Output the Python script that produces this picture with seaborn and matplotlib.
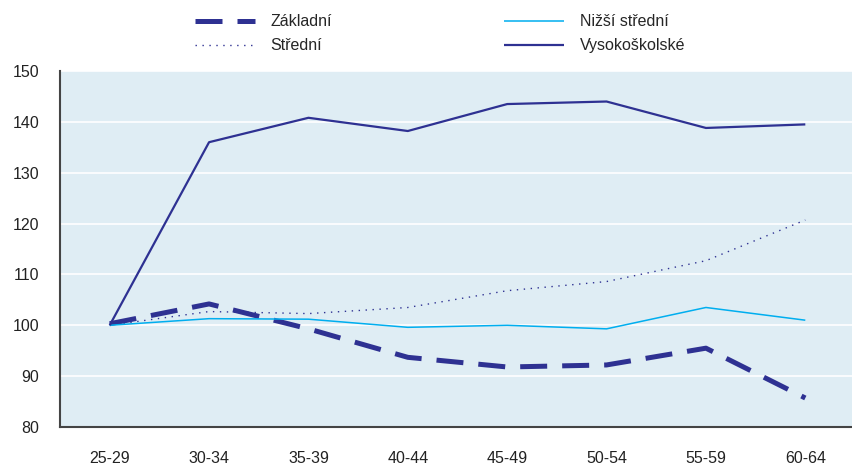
import numpy as np
import pandas as pd
import matplotlib
matplotlib.use('Agg')
import matplotlib.pyplot as plt
import seaborn as sns

# >> Data
age_groups = ['25-29', '30-34', '35-39', '40-44', '45-49', '50-54', '55-59', '60-64']
zakladni = [100.3, 104.2, 99.3, 93.7, 91.8, 92.2, 95.5, 85.7]
nizsi_stredni = [100.0, 101.3, 101.2, 99.6, 100.0, 99.3, 103.5, 101.0]
stredni = [100.0, 102.7, 102.3, 103.5, 106.8, 108.6, 112.7, 120.7]
vysokoskolske = [100.0, 136.0, 140.8, 138.2, 143.5, 144.0, 138.8, 139.5]

df = pd.DataFrame({
    'Věk': age_groups,
    'Základní': zakladni,
    'Nižší střední': nizsi_stredni,
    'Střední': stredni,
    'Vysokoškolské': vysokoskolske,
})
long_df = df.melt(id_vars='Věk', var_name='Vzdělání', value_name='Hodnota')
long_df['x'] = long_df['Věk'].map({a: i for i, a in enumerate(age_groups)})

sns.set_theme(style='white')
plt.rcParams['font.family'] = ['Liberation Sans', 'DejaVu Sans']

navy = '#2E3192'
cyan = '#00AEEF'
styles = {
    'Základní': dict(color=navy, lw=3.6, ls=(0, (5.4, 3))),
    'Střední': dict(color=navy, lw=1.0, ls=(0, (1, 4))),
    'Nižší střední': dict(color=cyan, lw=1.1, ls='-'),
    'Vysokoškolské': dict(color=navy, lw=1.6, ls='-'),
}

fig = plt.figure(figsize=(8.53, 4.66), dpi=100)
ax = fig.add_axes([60 / 853, 1 - 427 / 466, 795 / 853, 356 / 466])
ax.set_facecolor('#DFEDF4')

for name in ['Základní', 'Střední', 'Nižší střední', 'Vysokoškolské']:
    sub = long_df[long_df['Vzdělání'] == name]
    sns.lineplot(data=sub, x='x', y='Hodnota', ax=ax, label=name,
                 solid_capstyle='butt', dash_capstyle='butt', **styles[name])

ax.set_ylim(80, 150)
ax.set_xlim(-0.5, len(age_groups) - 0.5)
ax.set_yticks(np.arange(80, 151, 10))
ax.yaxis.grid(True, color='white', lw=1.2)
ax.set_axisbelow(True)
ax.set_xticks(np.arange(len(age_groups)))
ax.set_xticklabels(age_groups)
ax.set_xticks(np.arange(len(age_groups)) + 0.5, minor=True)
ax.tick_params(axis='x', which='major', length=0, pad=17, labelsize=11.5, colors='#222222')
ax.tick_params(axis='x', which='minor', direction='in', length=5, width=1.2, color='#555555')
ax.tick_params(axis='y', direction='in', length=5, width=1.0, color='#777777',
               labelsize=11.5, labelcolor='#222222', pad=15)
ax.set_xlabel('')
ax.set_ylabel('')
for s in ['top', 'right']:
    ax.spines[s].set_visible(False)
ax.spines['left'].set_color('#444444')
ax.spines['bottom'].set_color('#444444')
ax.spines['left'].set_linewidth(1.5)
ax.spines['bottom'].set_linewidth(1.5)

handles, labels = ax.get_legend_handles_labels()
order = ['Základní', 'Střední', 'Nižší střední', 'Vysokoškolské']
hl = dict(zip(labels, handles))
ax.get_legend().remove()
fig.legend([hl[k] for k in order], order, ncol=2, loc='upper left',
           bbox_to_anchor=(181 / 853, 1.0), frameon=False, fontsize=11.5,
           handlelength=3.75, columnspacing=10.8, handletextpad=0.95, labelspacing=0.55)

fig.savefig('out.png', dpi=100)
